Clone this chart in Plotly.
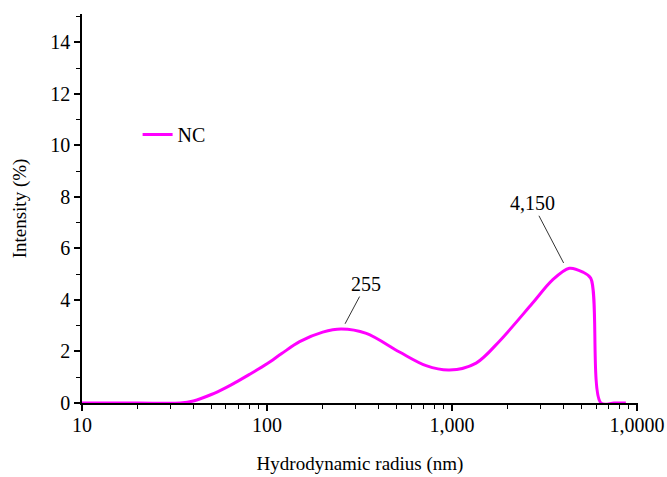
import numpy as np
import plotly.graph_objects as go

# Data
radius_nm = [10, 20, 34, 40, 50, 60, 70, 80, 100, 120, 150, 200, 252, 344, 520, 724, 968,
             1349, 1803, 2718, 3483, 4305, 5060, 5620, 6380, 7500, 8700]
intensity = [0, 0, 0, 0.08, 0.33, 0.6, 0.86, 1.1, 1.52, 1.92, 2.38, 2.75, 2.87, 2.7, 1.98, 1.45, 1.28,
             1.55, 2.4, 3.87, 4.77, 5.23, 5.09, 4.84, 0, 0, 0]
series_name = "NC"
x_tickvals = [10, 100, 1000, 10000]
x_ticktext = ["10", "100", "1,000", "1,0000"]
y_tickvals = [0, 2, 4, 6, 8, 10, 12, 14]
peak_labels = ["255", "4,150"]
peak_x = [255, 4150]
peak_y = [2.87, 5.23]

FONT = "Liberation Serif, Times New Roman, serif"

minor_x = [m * 10 ** d for d in range(1, 4) for m in range(2, 10)]

fig = go.Figure()
fig.add_trace(go.Scatter(
    x=radius_nm, y=intensity, mode="lines", name=series_name,
    line=dict(color="#FF00FF", width=3, shape="spline", smoothing=0.9),
))

for lbl, px, py, ax, ay in zip(peak_labels, peak_x, peak_y, [24, -34], [-45, -65]):
    fig.add_annotation(
        x=np.log10(px), y=py, text=lbl, showarrow=True, arrowhead=0,
        arrowwidth=1, arrowcolor="#333333", ax=ax, ay=ay, standoff=6,
        font=dict(family=FONT, size=20, color="black"),
    )

axis_common = dict(
    showline=True, linecolor="black", linewidth=1.5, ticks="outside",
    tickcolor="black", tickwidth=1.5, showgrid=False, zeroline=False,
    automargin=False,
    tickfont=dict(family=FONT, size=20, color="black"),
    title_font=dict(family=FONT, size=19, color="black"),
)

fig.update_xaxes(
    type="log", range=[1, 4.005], tickmode="array", tickvals=x_tickvals,
    ticktext=x_ticktext, ticklen=6, ticklabelstandoff=-3,
    minor=dict(tickmode="array", tickvals=minor_x, ticks="outside", ticklen=4,
               tickcolor="black", tickwidth=1),
    title_text="Hydrodynamic radius (nm)", title_standoff=22,
    **axis_common,
)
fig.update_yaxes(
    range=[0, 15.1], tickmode="array", tickvals=y_tickvals, ticklen=6,
    minor=dict(dtick=1, ticks="outside", ticklen=4, tickcolor="black", tickwidth=1),
    title_text="Intensity (%)", title_standoff=19,
    **axis_common,
)

fig.update_layout(
    width=667, height=477,
    margin=dict(l=82, r=29, t=14, b=74),
    plot_bgcolor="white", paper_bgcolor="white",
    showlegend=True,
    legend=dict(x=0.1, y=0.69, xanchor="left", yanchor="middle",
                bgcolor="rgba(0,0,0,0)", font=dict(family=FONT, size=20, color="black")),
)

fig.write_html(
    "out.html",
    config={"displayModeBar": False},
    post_script="document.body.style.margin='0';document.body.style.overflow='hidden';",
)
